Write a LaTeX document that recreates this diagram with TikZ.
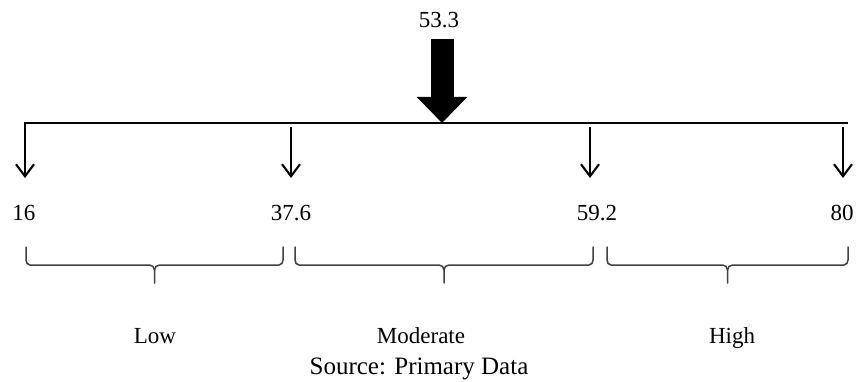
\documentclass[tikz,border=0pt]{standalone}
\usepackage{fontspec}
\setmainfont{Liberation Serif}
\usetikzlibrary{arrows.meta}

\tikzset{x=1pt, y=1pt}
\tikzset{
  scalelabel/.style={font=\fontsize{23}{27}\selectfont, inner sep=0pt, anchor=base},
  downarrow/.style={line width=2.1pt, -{Straight Barb[length=12pt,width=18pt]}},
  bigarrow/.style={line width=23pt, -{Triangle[length=26pt,width=49pt]}},
  bracestyle/.style={line width=1.5pt, draw=black!75, line cap=round},
}
% #1 left end, #2 right end, #3 tip
\newcommand{\groupbrace}[3]{%
  \draw[bracestyle] (#1,134) -- (#1,121) to[out=-90,in=180] (#1+4,116) -- (#3-5,116)
    to[out=0,in=90] (#3,111) -- (#3,98);
  \draw[bracestyle] (#3,111) to[out=90,in=180] (#3+5,116) -- (#2-4,116)
    to[out=0,in=-90] (#2,121) -- (#2,134);
}

\begin{document}
\begin{tikzpicture}
\useasboundingbox (0,0) rectangle (856,381);
% the scale line
\coordinate (axisL) at (24,258);
\coordinate (axisR) at (848,258);
\draw[line width=1.9pt] (axisL) -- (axisR);
% mean value on top
\node[scalelabel] (mean) at (439,353) {53.3};
\draw[bigarrow] ([xshift=3pt,yshift=-10pt]mean.south) -- ([xshift=3pt]mean.south |- axisL);
% edit here for the cut points
\foreach \x/\lx/\top/\val [count=\i] in {25/24/258/16, 291/291/254/37.6, 590/597/254/59.2, 843/842/254/80}{
\node[scalelabel] (cut\i) at (\lx,161) {\val};
\draw[downarrow] (\x,\top) -- (\x,203);
}
% the three groups
\groupbrace{26}{283}{154.5}
\groupbrace{295}{593}{444}
\groupbrace{607}{848}{727.5}
\node[scalelabel] (low) at (155,38) {Low};
\node[scalelabel] (moderate) at (421,38) {Moderate};
\node[scalelabel] (high) at (732,38) {High};
\node[scalelabel, font=\fontsize{25}{29}\selectfont] (source) at (419,7) {Source: Primary Data};
\end{tikzpicture}
\end{document}
